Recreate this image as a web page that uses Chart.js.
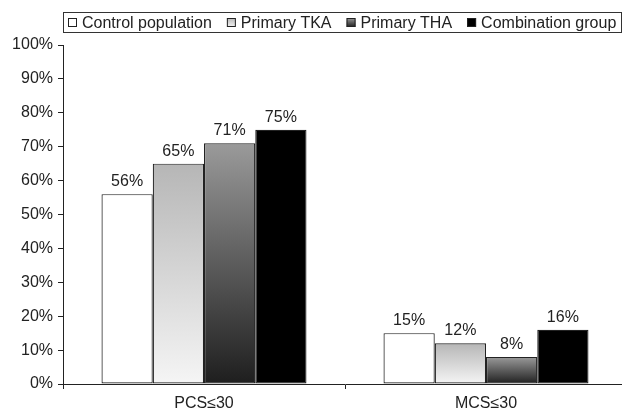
<!DOCTYPE html>
<html>
<head>
<meta charset="utf-8">
<script src="https://cdn.jsdelivr.net/npm/chart.js@4"></script>
<style>
  html, body { margin: 0; padding: 0; overflow: hidden; background: #fff; }
  #wrap { width: 627px; height: 414px; }
</style>
</head>
<body>
<div id="wrap"><canvas id="chart" width="627" height="414"></canvas></div>
<script>
// data (percent of patients)
const categories = ["PCS\u226430", "MCS\u226430"];
const groups = ["Control population", "Primary TKA", "Primary THA", "Combination group"];
const controlPopulation = [56, 15];
const primaryTKA = [65, 12];
const primaryTHA = [71, 8];
const combinationGroup = [75, 16];
const yMax = 100;
const yStep = 10;

// top -> bottom shade of each series
const shades = [
  ["#ffffff", "#ffffff"],
  ["#b6b6b6", "#f5f5f5"],
  ["#9a9a9a", "#1e1e1e"],
  ["#000000", "#000000"]
];

const FONT = '"Liberation Sans", Arial, Helvetica, sans-serif';
const INK = "#222";

Chart.defaults.font.family = FONT;
Chart.defaults.font.size = 16;
Chart.defaults.color = INK;

function shade(top, bottom) {
  return ctx => {
    const chart = ctx.chart;
    const y = chart.scales.y;
    if (ctx.type !== "data" || !y || top === bottom) return bottom;
    const y0 = y.getPixelForValue(ctx.raw);
    const y1 = y.getPixelForValue(0);
    if (!isFinite(y0) || !isFinite(y1) || y0 === y1) return bottom;
    const g = chart.ctx.createLinearGradient(0, y0, 0, y1);
    g.addColorStop(0, top);
    g.addColorStop(1, bottom);
    return g;
  };
}

// percentage written above every bar
const valueLabels = {
  id: "valueLabels",
  afterDatasetsDraw(chart) {
    const c = chart.ctx;
    c.save();
    c.font = "16px " + FONT;
    c.fillStyle = INK;
    c.textAlign = "center";
    c.textBaseline = "alphabetic";
    chart.data.datasets.forEach((ds, i) => {
      chart.getDatasetMeta(i).data.forEach((bar, j) => {
        c.fillText(ds.data[j] + "%", bar.x, bar.y - 8);
      });
    });
    c.restore();
  }
};

// boxed legend across the top, like the original figure
const boxedLegend = {
  id: "boxedLegend",
  afterDraw(chart) {
    const c = chart.ctx;
    const left = 63.5, top = 12.5, h = 20, right = 621.5;
    c.save();
    c.strokeStyle = "#333";
    c.lineWidth = 1;
    c.strokeRect(left, top, right - left, h);
    c.font = "16px " + FONT;
    c.textBaseline = "middle";
    c.textAlign = "left";
    const mid = top + h / 2;
    let x = 68;
    chart.data.datasets.forEach((ds, i) => {
      const [t, b] = shades[i];
      const g = c.createLinearGradient(0, mid - 4.5, 0, mid + 4.5);
      g.addColorStop(0, t);
      g.addColorStop(1, b);
      c.fillStyle = g;
      c.fillRect(x, mid - 4.5, 9, 9);
      c.strokeStyle = INK;
      c.strokeRect(x + 0.5, mid - 4, 8, 8);
      c.fillStyle = INK;
      c.fillText(ds.label, x + 14, mid + 1);
      x += 14 + c.measureText(ds.label).width + 15;
    });
    c.restore();
  }
};

const series = [controlPopulation, primaryTKA, primaryTHA, combinationGroup];

new Chart(document.getElementById("chart"), {
  type: "bar",
  data: {
    labels: categories,
    datasets: series.map((values, i) => ({
      label: groups[i],
      data: values,
      backgroundColor: shade(shades[i][0], shades[i][1]),
      borderColor: INK,
      borderWidth: 1.2,
      borderSkipped: false,
      categoryPercentage: 0.727,
      barPercentage: 1
    }))
  },
  options: {
    responsive: false,
    animation: false,
    layout: { padding: { top: 45, left: 0, right: 0, bottom: 0 } },
    plugins: {
      legend: { display: false },
      tooltip: { enabled: false }
    },
    scales: {
      x: {
        grid: { offset: true, drawOnChartArea: false, color: INK, tickLength: 5 },
        border: { color: INK, width: 1 },
        ticks: { padding: 5, color: INK },
        afterFit: s => { s.height = 30; }
      },
      y: {
        min: 0,
        max: yMax,
        grid: { drawOnChartArea: false, color: INK, tickLength: 5 },
        border: { color: INK, width: 1 },
        ticks: { stepSize: yStep, padding: 5, color: INK, callback: v => v + "%" },
        afterFit: s => { s.width = 63; }
      }
    }
  },
  plugins: [valueLabels, boxedLegend]
});
</script>
</body>
</html>
